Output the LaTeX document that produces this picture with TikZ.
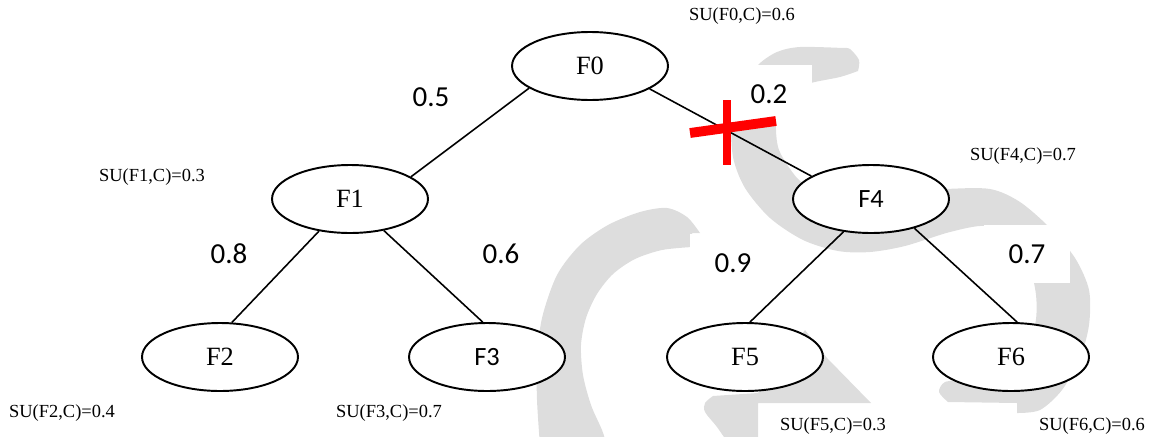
\documentclass[tikz,border=0pt]{standalone}
\usepackage{fontspec}
\setmainfont{Liberation Serif}
\newfontfamily\calibri{Carlito}
\usetikzlibrary{shapes.geometric}
\definecolor{bandgray}{RGB}{221,221,221}
\definecolor{crossred}{RGB}{255,0,0}
\begin{document}
\begin{tikzpicture}[x=0.02cm,y=-0.02cm,
  feat/.style={ellipse,draw,line width=1.1pt,fill=white,minimum width=3.12cm,
    minimum height=1.36cm,inner sep=0pt,font=\fontsize{15}{18}\selectfont},
  featsans/.style={feat,font=\calibri\fontsize{15}{18}\selectfont},
  link/.style={line width=0.9pt},
  weight/.style={font=\calibri\fontsize{16.5}{19}\selectfont,inner sep=0pt},
  weightbox/.style={weight,fill=white,minimum width=1.72cm,minimum height=1.16cm},
  su/.style={font=\fontsize{10.5}{12}\selectfont,inner sep=0pt},
  band/.style={fill=bandgray},
  crossbar/.style={draw=crossred,line cap=butt}]
\useasboundingbox (0,0) rectangle (1151,436);
\clip (0,0) rectangle (1151,436);

% grey search-direction bands (background)
\fill[band] plot[smooth] coordinates {(540,446) (537,400) (537,360) (542,318) (557,275) (580,245) (608,225) (640,212) (667,208) (687,217) (700,233)}
  -- (692,233) -- (692,247)
  -- plot[smooth] coordinates {(692,247) (662,250) (635,259) (613,274) (597,294) (586,318) (581,345) (583,375) (591,405) (602,430) (607,446)}
  -- cycle;

\fill[band] plot[smooth] coordinates {(843,48) (800,47) (777,52) (758,65) (742,88) (732,120) (733,157) (745,188) (770,218) (803,240) (838,251) (870,252) (905,246) (950,232) (985,226) (1010,238) (1028,262) (1036,295) (1035,325) (1022,352) (995,372) (965,380)}
  -- plot[smooth] coordinates {(965,380) (945,382) (939,392) (948,402)}
  -- (1017,403) -- (1017,413)
  -- plot[smooth] coordinates {(1017,413) (1040,410) (1062,390) (1080,358) (1089,325) (1089,290) (1075,258) (1050,228) (1020,202) (990,189) (945,189) (900,192) (850,196) (815,190) (797,178) (779,150) (776,122) (781,100) (795,88) (815,82) (840,77) (858,71)}
  -- plot[smooth] coordinates {(858,71) (859,60) (850,49) (843,48)}
  -- cycle;

\fill[band] (805,330) -- (827,358) -- (871,403) -- (758,403) -- (758,446) -- (730,446)
  -- plot[smooth] coordinates {(730,446) (717,427) (705,412) (705,403) (713,396)}
  -- (758,393) -- (775,370) -- cycle;

% weight labels (the boxed ones mask the bands)
\node[weightbox] (w04) at (769,94) {0.2};
\node[weightbox] (w45) at (733,263) {0.9};
\node[weightbox] (w46) at (1027,254) {0.7};
\node[weight] (w01) at (431,97) {0.5};
\node[weight] (w12) at (229,254) {0.8};
\node[weight] (w13) at (501,254) {0.6};

% feature nodes
\node[feat] (F0) at (590,66) {F0};
\node[feat] (F1) at (350,199) {F1};
\node[feat] (F2) at (220,357) {F2};
\node[featsans] (F3) at (487,357) {F3};
\node[featsans] (F4) at (871,199) {F4};
\node[feat] (F5) at (745,357) {F5};
\node[feat] (F6) at (1011,357) {F6};

% tree edges
\draw[link] (F0.200) -- (F1.20);
\draw[link] (F0.339) -- (F4.159);
\draw[link] (F1.226) -- (F2.71);
\draw[link] (F1.317) -- (F3.97);
\draw[link] (F4.230) -- (F5.82);
\draw[link] (F4.326) -- (F6.80);

% pruned edge mark
\draw[crossbar,line width=5.6pt] (690,133) -- (776,121);
\draw[crossbar,line width=4.6pt] (727,100) -- (727,165);

% symmetric-uncertainty annotations
\node[su] (su0) at (742,16) {SU(F0,C)=0.6};
\node[su] (su1) at (152,177) {SU(F1,C)=0.3};
\node[su] (su2) at (62,413) {SU(F2,C)=0.4};
\node[su] (su3) at (389,413) {SU(F3,C)=0.7};
\node[su] (su4) at (1023,156) {SU(F4,C)=0.7};
\node[su] (su5) at (833,426) {SU(F5,C)=0.3};
\node[su] (su6) at (1092,426) {SU(F6,C)=0.6};
\end{tikzpicture}
\end{document}
